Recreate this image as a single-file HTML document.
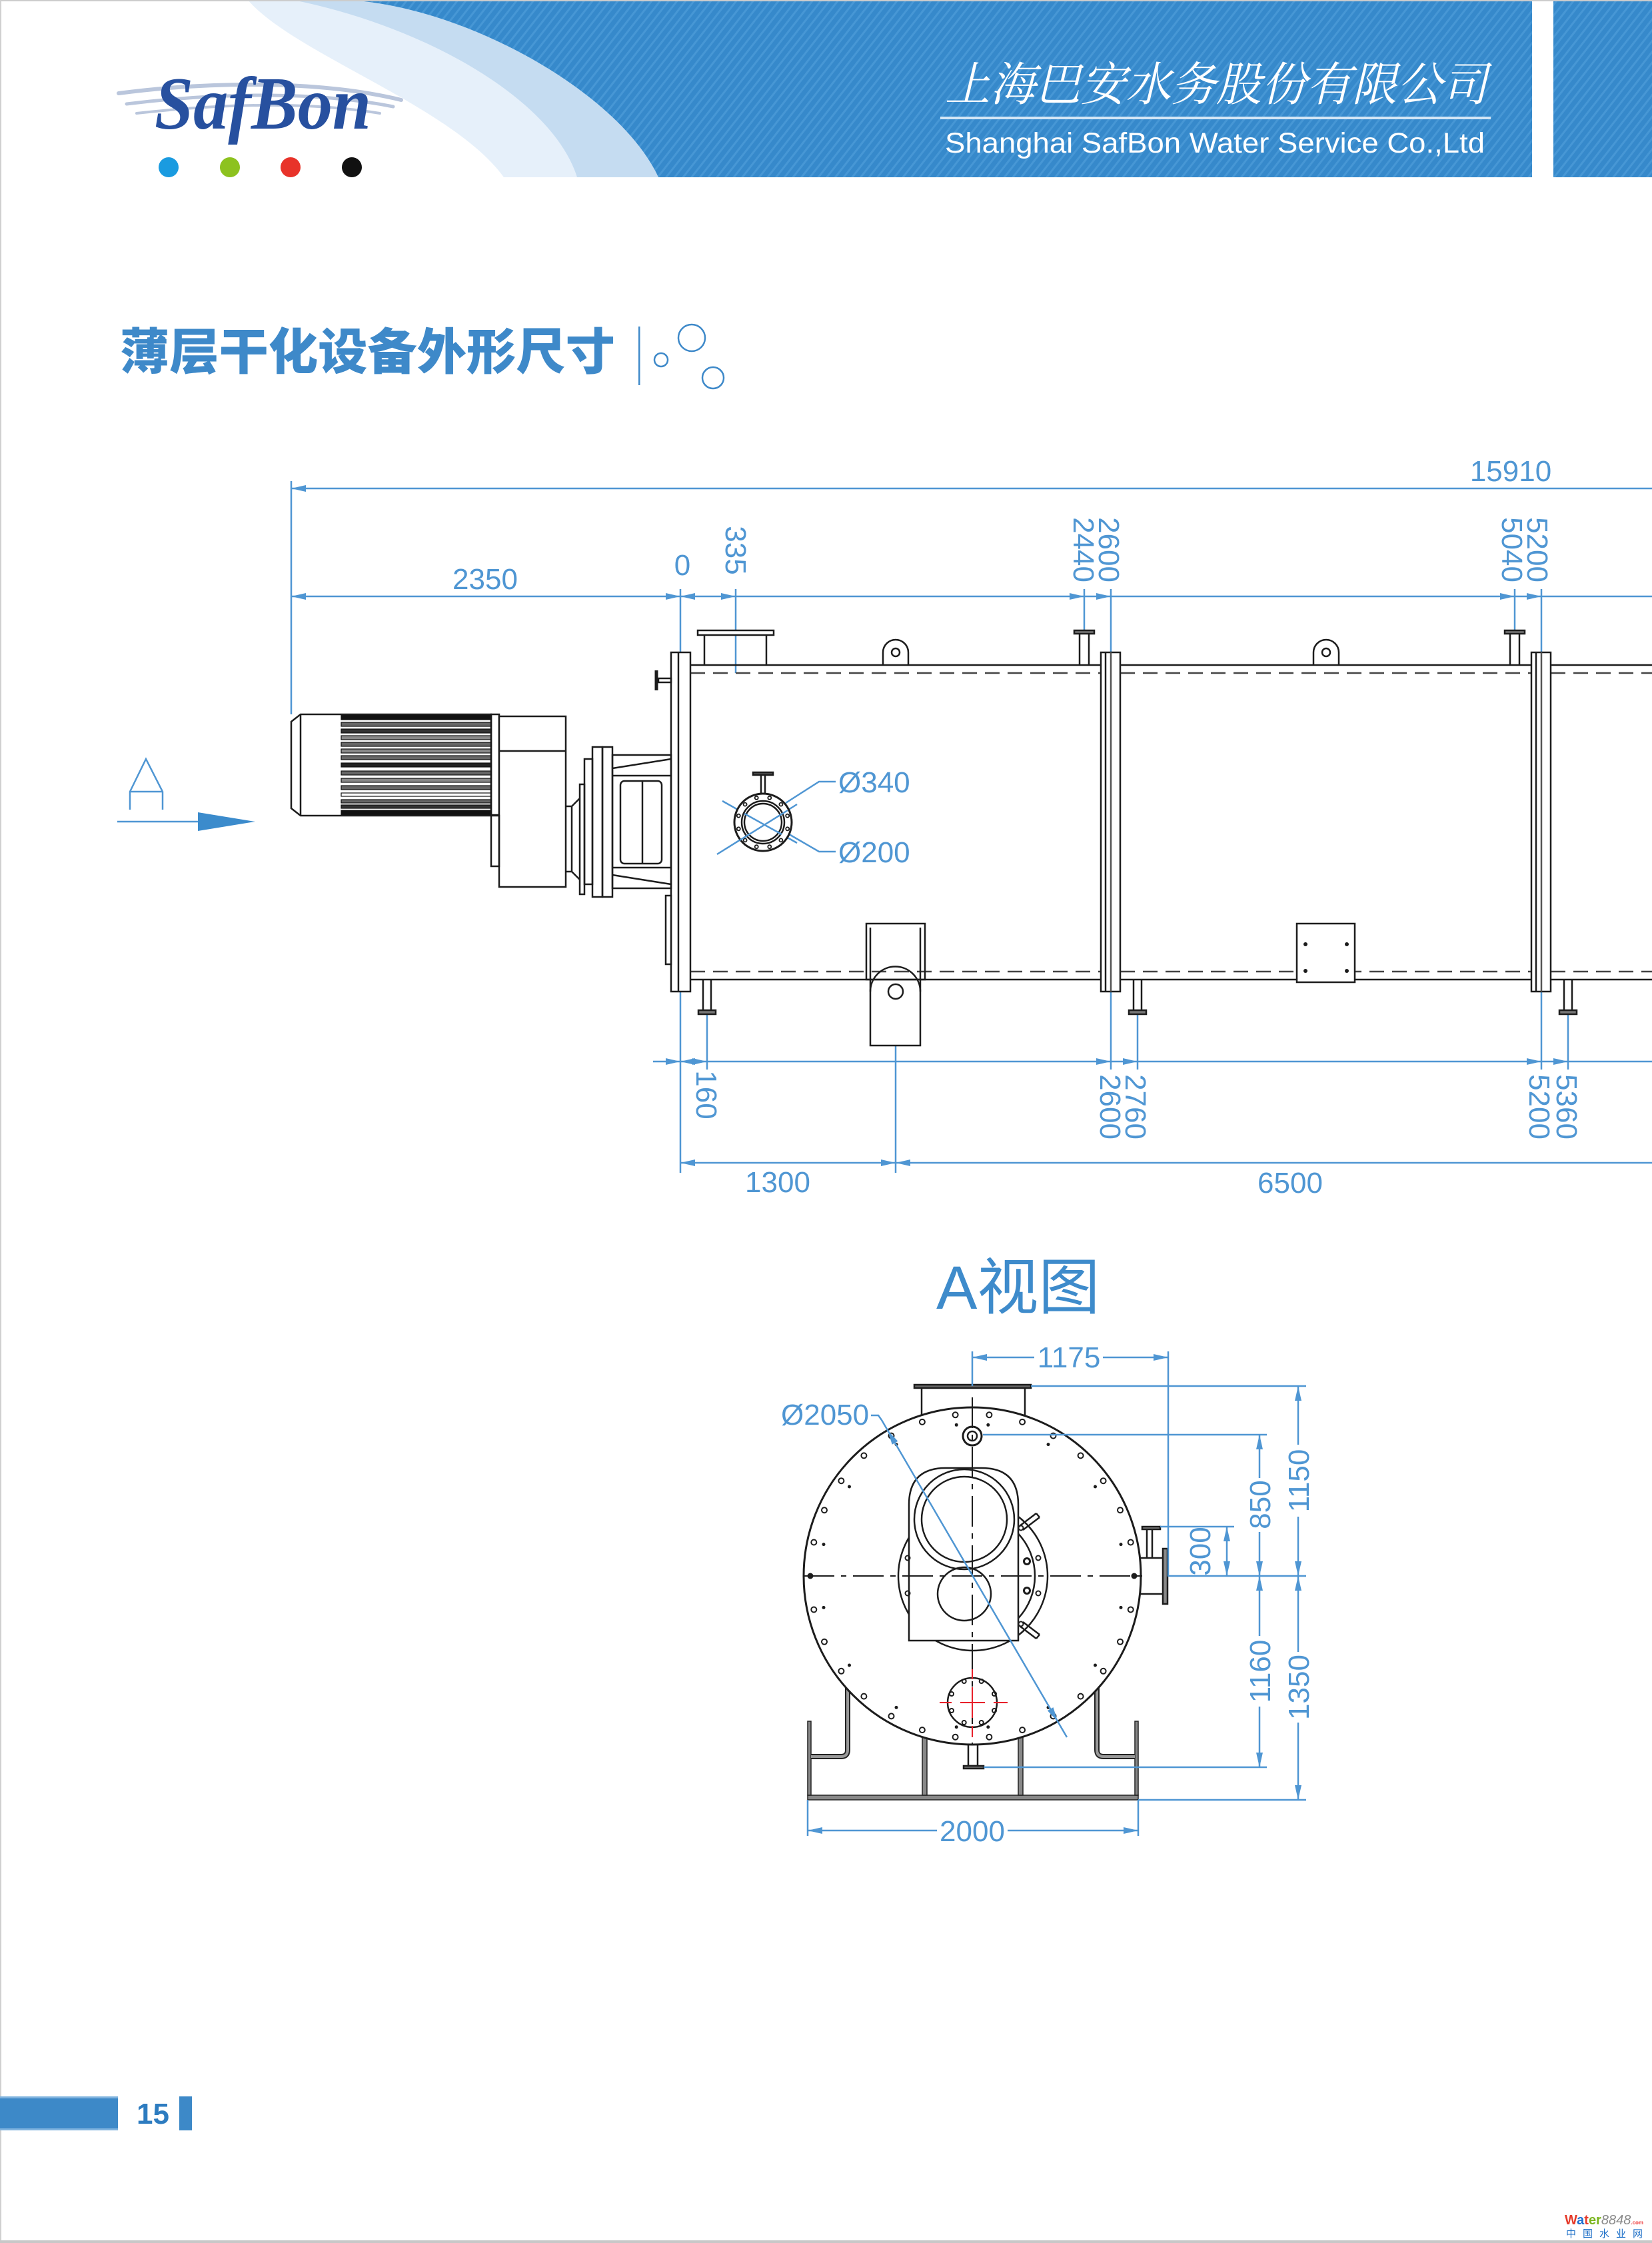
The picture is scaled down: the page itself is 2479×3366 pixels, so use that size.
<!DOCTYPE html>
<html><head><meta charset="utf-8"><style>
html,body{margin:0;padding:0;background:#fff}
svg{display:block}
</style></head><body>
<svg width="2479" height="3366" viewBox="0 0 2479 3366" xmlns="http://www.w3.org/2000/svg">
<defs>
<pattern id="st" width="10" height="10" patternUnits="userSpaceOnUse" patternTransform="rotate(38)">
<rect width="10" height="10" fill="#3689cb"/>
<rect width="3" height="10" fill="#4797d5"/>
</pattern>
</defs>
<rect width="2479" height="3366" fill="#fff"/>

<!-- HEADER -->
<path d="M372,0 C440,80 680,160 756,266 L988,266 C930,140 700,10 522,0 Z" fill="#e6f0fa"/>
<path d="M440,0 C640,40 830,150 866,266 L988,266 C930,140 700,10 522,0 Z" fill="#c5dcf1"/>
<path d="M522,0 C700,10 930,140 988,266 L2299,266 L2299,0 Z" fill="url(#st)"/>
<rect x="2331" y="0" width="148" height="266" fill="url(#st)"/>
<rect x="0" y="0" width="2479" height="2" fill="#cccccc"/>
<rect x="0" y="0" width="2" height="3366" fill="#d0d0d0"/>
<rect x="0" y="3362" width="2479" height="4" fill="#c8c8c8"/>

<!-- logo -->
<g fill="none" stroke="#bac6dc" stroke-linecap="round">
<path d="M178,140 C300,124 470,118 602,150" stroke-width="6"/>
<path d="M190,156 C320,140 470,136 590,160" stroke-width="5"/>
<path d="M205,170 C330,156 460,152 570,170" stroke-width="4"/>
</g>
<text x="232" y="193" font-family="Liberation Serif, serif" font-weight="bold" font-style="italic" font-size="112" fill="#27509f" textLength="325" lengthAdjust="spacingAndGlyphs">SafBon</text>
<circle cx="253" cy="251" r="15" fill="#1a9be0"/>
<circle cx="345" cy="251" r="15" fill="#8dc21f"/>
<circle cx="436" cy="251" r="15" fill="#e8332a"/>
<circle cx="528" cy="251" r="15" fill="#111"/>

<text x="1418" y="151" font-family="Noto Serif CJK SC, serif" font-style="italic" font-size="70" fill="#fff" textLength="814" lengthAdjust="spacingAndGlyphs">上海巴安水务股份有限公司</text>
<rect x="1411" y="175" width="826" height="4" fill="#d4e6f5"/>
<text x="1418" y="229" font-family="Liberation Sans, Arial, sans-serif" font-size="43" fill="#fff" textLength="810" lengthAdjust="spacingAndGlyphs">Shanghai SafBon Water Service Co.,Ltd</text>

<!-- TITLE -->
<text x="180" y="554" font-family="Noto Sans CJK SC, sans-serif" font-weight="900" font-size="74" fill="#3e89c9" textLength="743" lengthAdjust="spacingAndGlyphs">薄层干化设备外形尺寸</text>
<rect x="958" y="490" width="2.5" height="88" fill="#3e89c9"/>
<g fill="none" stroke="#3e89c9" stroke-width="2.5">
<circle cx="992" cy="540" r="10"/>
<circle cx="1038" cy="507" r="20"/>
<circle cx="1070" cy="567" r="16"/>
</g>

<!-- A arrow on left -->
<g stroke="#4f96d3" stroke-width="2.5" fill="none">
<path d="M195,1215 V1188 L219,1139 L244,1188 V1215 M195,1188 H244"/>
<line x1="176" y1="1233" x2="300" y2="1233"/>
</g>
<polygon points="383,1233 297,1219 297,1247" fill="#3b8bcc"/>

<!-- MAIN DRAWING: dimension lines (blue) -->
<g stroke="#4f96d3" stroke-width="2.5" fill="none">
<line x1="437" y1="733" x2="2479" y2="733"/>
<line x1="437" y1="722" x2="437" y2="1072"/>
<line x1="437" y1="895" x2="2479" y2="895"/>
<line x1="1021" y1="884" x2="1021" y2="1760"/>
<line x1="1104" y1="884" x2="1104" y2="1010"/>
<line x1="1627" y1="884" x2="1627" y2="946"/>
<line x1="1667" y1="884" x2="1667" y2="1605"/>
<line x1="2273" y1="884" x2="2273" y2="946"/>
<line x1="2313" y1="884" x2="2313" y2="1605"/>
<line x1="980" y1="1593" x2="2479" y2="1593"/>
<line x1="1061" y1="1522" x2="1061" y2="1605"/>
<line x1="1707" y1="1522" x2="1707" y2="1605"/>
<line x1="2353" y1="1522" x2="2353" y2="1605"/>
<line x1="1021" y1="1745" x2="2479" y2="1745"/>
<line x1="1344" y1="1569" x2="1344" y2="1760"/>
<!-- manhole dims -->
<line x1="1076" y1="1282" x2="1196" y2="1207"/>
<path d="M1179,1205 L1229,1173 H1254"/>
<line x1="1084" y1="1202" x2="1196" y2="1265"/>
<path d="M1179,1249 L1229,1278 H1254"/>
</g>
<g fill="#4f96d3">
<polygon points="437,733 459,728 459,738"/>
<polygon points="437,895 459,890 459,900"/>
<polygon points="1021,895 999,890 999,900"/>
<polygon points="1021,895 1043,890 1043,900"/>
<polygon points="1104,895 1082,890 1082,900"/>
<polygon points="1627,895 1605,890 1605,900"/>
<polygon points="1667,895 1645,890 1645,900"/>
<polygon points="2273,895 2251,890 2251,900"/>
<polygon points="2313,895 2291,890 2291,900"/>
<polygon points="1021,1593 999,1588 999,1598"/>
<polygon points="1021,1593 1043,1588 1043,1598"/>
<polygon points="1061,1593 1039,1588 1039,1598"/>
<polygon points="1667,1593 1645,1588 1645,1598"/>
<polygon points="1707,1593 1685,1588 1685,1598"/>
<polygon points="2313,1593 2291,1588 2291,1598"/>
<polygon points="2353,1593 2331,1588 2331,1598"/>
<polygon points="1021,1745 1043,1740 1043,1750"/>
<polygon points="1344,1745 1322,1740 1322,1750"/>
<polygon points="1344,1745 1366,1740 1366,1750"/>
</g>
<g font-family="Liberation Sans, Arial, sans-serif" font-size="44" fill="#4f96d3" text-anchor="middle">
<text x="2267" y="722">15910</text>
<text x="728" y="884">2350</text>
<text x="1024" y="863">0</text>
<text transform="translate(1105,826) rotate(90)" x="0" y="16">335</text>
<text transform="translate(1627,825) rotate(90)" x="0" y="16">2440</text>
<text transform="translate(1665,825) rotate(90)" x="0" y="16">2600</text>
<text transform="translate(2270,825) rotate(90)" x="0" y="16">5040</text>
<text transform="translate(2308,825) rotate(90)" x="0" y="16">5200</text>
<text transform="translate(1061,1643) rotate(90)" x="0" y="16">160</text>
<text transform="translate(1667,1661) rotate(90)" x="0" y="16">2600</text>
<text transform="translate(1705,1661) rotate(90)" x="0" y="16">2760</text>
<text transform="translate(2311,1661) rotate(90)" x="0" y="16">5200</text>
<text transform="translate(2352,1661) rotate(90)" x="0" y="16">5360</text>
<text x="1167" y="1789">1300</text>
<text x="1936" y="1790">6500</text>
<text x="1258" y="1189" text-anchor="start">Ø340</text>
<text x="1258" y="1294" text-anchor="start">Ø200</text>
</g>

<!-- MAIN DRAWING: machine (black) -->
<g stroke="#1c1c1c" stroke-width="2.5" fill="none">
<!-- shell lines -->
<path d="M1036,998 H1652 M1681,998 H2298 M2327,998 H2479 M1036,1470 H1652 M1681,1470 H2298 M2327,1470 H2479"/>
<path d="M1036,1010 H1652 M1681,1010 H2298 M2327,1010 H2479 M1036,1458 H1652 M1681,1458 H2298 M2327,1458 H2479" stroke="#444" stroke-dasharray="22 12"/>
<!-- flanges -->
<rect x="1007" y="979" width="29" height="509" fill="#fff"/>
<line x1="1018" y1="979" x2="1018" y2="1488"/>
<rect x="1652" y="979" width="29" height="509" fill="#fff"/>
<line x1="1659" y1="979" x2="1659" y2="1488"/>
<line x1="1667" y1="979" x2="1667" y2="1488" stroke="#555"/>
<rect x="2298" y="979" width="29" height="509" fill="#fff"/>
<line x1="2305" y1="979" x2="2305" y2="1488"/>
<line x1="2313" y1="979" x2="2313" y2="1488" stroke="#555"/>
<!-- inlet nozzle -->
<rect x="1047" y="946" width="114" height="7" fill="#fff"/>
<path d="M1057,953 V998 M1150,953 V998"/>
<!-- lugs -->
<path d="M1325,998 V979 A19,19 0 0 1 1363,979 V998"/>
<circle cx="1344" cy="979" r="6"/>
<path d="M1971,998 V979 A19,19 0 0 1 2009,979 V998"/>
<circle cx="1990" cy="979" r="6"/>
<!-- small top nozzles -->
<path d="M1620,951 V998 M1634,951 V998"/>
<rect x="1612" y="946" width="30" height="5" fill="#777"/>
<path d="M2266,951 V998 M2280,951 V998"/>
<rect x="2258" y="946" width="30" height="5" fill="#777"/>
<!-- legs -->
<path d="M1055,1470 V1516 M1067,1470 V1516"/>
<rect x="1048" y="1516" width="26" height="6" fill="#777"/>
<path d="M1701,1470 V1516 M1713,1470 V1516"/>
<rect x="1694" y="1516" width="26" height="6" fill="#777"/>
<path d="M2347,1470 V1516 M2359,1470 V1516"/>
<rect x="2340" y="1516" width="26" height="6" fill="#777"/>
<!-- left small nozzle -->
<line x1="985" y1="1006" x2="985" y2="1036" stroke-width="5"/>
<rect x="988" y="1018" width="19" height="6"/>
<rect x="999" y="1344" width="8" height="103" fill="#fff"/>
<!-- bracket 1 -->
<rect x="1300" y="1386" width="88" height="84"/>
<path d="M1306,1392 V1569 H1381 V1392"/>
<path d="M1306,1488 A37.5,37.5 0 0 1 1381,1488"/>
<circle cx="1344" cy="1488" r="11"/>
<!-- bracket 2 -->
<rect x="1946" y="1386" width="87" height="88" fill="#fff"/>
<g fill="#1c1c1c" stroke="none">
<circle cx="1959" cy="1417" r="3"/><circle cx="2021" cy="1417" r="3"/>
<circle cx="1959" cy="1457" r="3"/><circle cx="2021" cy="1457" r="3"/>
</g>
<!-- manhole -->
<path d="M1142,1191 V1162 M1148,1191 V1162"/>
<rect x="1130" y="1159" width="30" height="4" fill="#555"/>
<circle cx="1145" cy="1234" r="43" fill="#fff" stroke-width="3"/>
<circle cx="1145" cy="1234" r="32"/>
<circle cx="1145" cy="1234" r="28"/>
<g stroke-width="1.8">
<circle cx="1181.7" cy="1243.8" r="2.5"/><circle cx="1171.9" cy="1260.9" r="2.5"/>
<circle cx="1154.8" cy="1270.7" r="2.5"/><circle cx="1135.2" cy="1270.7" r="2.5"/>
<circle cx="1118.1" cy="1260.9" r="2.5"/><circle cx="1108.3" cy="1243.8" r="2.5"/>
<circle cx="1108.3" cy="1224.2" r="2.5"/><circle cx="1118.1" cy="1207.1" r="2.5"/>
<circle cx="1135.2" cy="1197.3" r="2.5"/><circle cx="1154.8" cy="1197.3" r="2.5"/>
<circle cx="1171.9" cy="1207.1" r="2.5"/><circle cx="1181.7" cy="1224.2" r="2.5"/>
</g>
</g>
<!-- manhole dims over -->
<g stroke="#4f96d3" stroke-width="2.5">
<line x1="1110" y1="1261" x2="1182" y2="1216"/>
<line x1="1117" y1="1221" x2="1173" y2="1252"/>
</g>

<!-- motor + gearbox -->
<g stroke="#1c1c1c" stroke-width="2.5" fill="none">
<g fill="#666" stroke="#111" stroke-width="1.2">
<rect x="512" y="1073" width="225" height="7" fill="#111"/>
<rect x="512" y="1084" width="225" height="6"/>
<rect x="512" y="1094" width="225" height="6" fill="#333"/>
<rect x="512" y="1104" width="225" height="6" fill="#888"/>
<rect x="512" y="1114" width="225" height="6"/>
<rect x="512" y="1124" width="225" height="6" fill="#888"/>
<rect x="512" y="1134" width="225" height="6"/>
<rect x="512" y="1145" width="225" height="6" fill="#222"/>
<rect x="512" y="1157" width="225" height="6"/>
<rect x="512" y="1168" width="225" height="6" fill="#888"/>
<rect x="512" y="1179" width="225" height="6"/>
<rect x="512" y="1190" width="225" height="5" fill="#fff"/>
<rect x="512" y="1200" width="225" height="5"/>
<rect x="512" y="1208" width="225" height="5" fill="#333"/>
<rect x="512" y="1216" width="225" height="8" fill="#111"/>
</g>
<path d="M451,1072 H737 V1224 H451 L437,1213 V1083 Z"/>
<line x1="451" y1="1072" x2="451" y2="1224"/>
<rect x="737" y="1072" width="12" height="151"/>
<rect x="749" y="1075" width="100" height="256" fill="#fff"/>
<line x1="749" y1="1127" x2="849" y2="1127"/>
<rect x="737" y="1224" width="12" height="76"/>
<path d="M849,1210 H858 L870,1198 M849,1308 H858 L870,1320 M858,1210 V1308"/>
<rect x="870" y="1177" width="7" height="165"/>
<rect x="877" y="1139" width="12" height="188"/>
<rect x="889" y="1121" width="15" height="225"/>
<rect x="904" y="1121" width="15" height="225"/>
<rect x="919" y="1133" width="88" height="200"/>
<path d="M919,1153 L1007,1139 M919,1313 L1007,1327 M919,1164 H1007 M919,1302 H1007"/>
<rect x="931" y="1172" width="62" height="124" rx="6"/>
<line x1="964" y1="1172" x2="964" y2="1296"/>
</g>

<!-- A VIEW -->
<text x="1405" y="1964" font-size="92" fill="#3e8bcb"><tspan font-family="Liberation Sans, Arial, sans-serif">A</tspan><tspan font-family="Noto Sans CJK SC, sans-serif">视图</tspan></text>

<!-- legs & frame -->
<g stroke="#222" fill="#888" stroke-width="1.5">
<rect x="1212" y="2694" width="496" height="7"/>
<rect x="1212" y="2583" width="5" height="111"/>
<rect x="1703" y="2583" width="5" height="111"/>
<rect x="1384" y="2600" width="7" height="94"/>
<rect x="1528" y="2600" width="7" height="94"/>
</g>
<g fill="none" stroke-linecap="butt">
<path d="M1272,2530 V2626 Q1272,2636 1262,2636 H1217" stroke="#222" stroke-width="8"/>
<path d="M1272,2530 V2626 Q1272,2636 1262,2636 H1217" stroke="#999" stroke-width="4"/>
<path d="M1646,2530 V2626 Q1646,2636 1656,2636 H1703" stroke="#222" stroke-width="8"/>
<path d="M1646,2530 V2626 Q1646,2636 1656,2636 H1703" stroke="#999" stroke-width="4"/>
</g>
<g stroke="#1c1c1c" stroke-width="2.5" fill="none">
<rect x="1453" y="2610" width="14" height="40" fill="#fff"/>
<rect x="1446" y="2650" width="30" height="4" fill="#777"/>
<!-- top nozzle -->
<path d="M1383,2083 V2130 M1538,2083 V2130"/>
<rect x="1372" y="2078" width="175" height="5" fill="#666"/>
<!-- right nozzle -->
<path d="M1700,2338 H1745 M1700,2392 H1745 M1721,2295 V2338 M1729,2295 V2338"/>
<rect x="1745" y="2324" width="7" height="83" fill="#888"/>
<rect x="1714" y="2291" width="27" height="4" fill="#888"/>
<!-- main circle -->
<circle cx="1459" cy="2365" r="253" fill="#fff" stroke-width="3"/>
</g>
<!-- bolt holes -->
<g fill="#fff" stroke="#1c1c1c" stroke-width="2">
<circle cx="1484.4" cy="2123.3" r="4"/><circle cx="1534.1" cy="2133.9" r="4"/><circle cx="1580.5" cy="2154.6" r="4"/>
<circle cx="1621.6" cy="2184.4" r="4"/><circle cx="1655.6" cy="2222.2" r="4"/><circle cx="1681" cy="2266.2" r="4"/>
<circle cx="1696.7" cy="2314.5" r="4"/><circle cx="1696.7" cy="2415.5" r="4"/>
<circle cx="1681" cy="2463.8" r="4"/><circle cx="1655.6" cy="2507.8" r="4"/><circle cx="1621.6" cy="2545.6" r="4"/>
<circle cx="1580.5" cy="2575.4" r="4"/><circle cx="1534.1" cy="2596.1" r="4"/><circle cx="1484.4" cy="2606.7" r="4"/>
<circle cx="1433.6" cy="2606.7" r="4"/><circle cx="1383.9" cy="2596.1" r="4"/><circle cx="1337.5" cy="2575.4" r="4"/>
<circle cx="1296.4" cy="2545.6" r="4"/><circle cx="1262.4" cy="2507.8" r="4"/><circle cx="1237" cy="2463.8" r="4"/>
<circle cx="1221.3" cy="2415.5" r="4"/><circle cx="1221.3" cy="2314.5" r="4"/>
<circle cx="1237" cy="2266.2" r="4"/><circle cx="1262.4" cy="2222.2" r="4"/><circle cx="1296.4" cy="2184.4" r="4"/>
<circle cx="1337.5" cy="2154.6" r="4"/><circle cx="1383.9" cy="2133.9" r="4"/><circle cx="1433.6" cy="2123.3" r="4"/>
</g>
<g fill="#1c1c1c">
<circle cx="1702" cy="2365" r="4.5"/><circle cx="1216" cy="2365" r="4.5"/>
<circle cx="1482.8" cy="2138.3" r="2.5"/><circle cx="1573" cy="2167.6" r="2.5"/><circle cx="1643.5" cy="2231" r="2.5"/><circle cx="1682" cy="2317.6" r="2.5"/>
<circle cx="1682" cy="2412.4" r="2.5"/><circle cx="1643.5" cy="2499" r="2.5"/><circle cx="1573" cy="2562.4" r="2.5"/><circle cx="1482.8" cy="2591.7" r="2.5"/>
<circle cx="1435.2" cy="2591.7" r="2.5"/><circle cx="1345" cy="2562.4" r="2.5"/><circle cx="1274.5" cy="2499" r="2.5"/><circle cx="1236" cy="2412.4" r="2.5"/>
<circle cx="1236" cy="2317.6" r="2.5"/><circle cx="1274.5" cy="2231" r="2.5"/><circle cx="1345" cy="2167.6" r="2.5"/><circle cx="1435.2" cy="2138.3" r="2.5"/>
</g>
<!-- interior -->
<g stroke="#1c1c1c" stroke-width="2.5" fill="none">
<circle cx="1460" cy="2365" r="112"/>
<circle cx="1460" cy="2365" r="93"/>
<path d="M1530,2290 L1555,2271 M1535,2296 L1560,2277 M1555,2271 L1560,2277"/>
<path d="M1530,2440 L1555,2459 M1535,2434 L1560,2453 M1555,2459 L1560,2453"/>
<path d="M1364,2462 V2258 Q1364,2203 1419,2203 H1473 Q1528,2203 1528,2258 V2462 Z" fill="#fff"/>
<circle cx="1447" cy="2280" r="75"/>
<circle cx="1447" cy="2280" r="64"/>
<circle cx="1447" cy="2392" r="40"/>
<g stroke-width="2">
<circle cx="1532" cy="2293" r="3.5"/><circle cx="1558" cy="2338" r="3.5"/>
<circle cx="1558" cy="2391" r="3.5"/><circle cx="1532" cy="2437" r="3.5"/>
<circle cx="1541" cy="2343" r="4.5" stroke-width="3"/><circle cx="1541" cy="2387" r="4.5" stroke-width="3"/>
<circle cx="1362" cy="2338" r="3.5"/><circle cx="1362" cy="2391" r="3.5"/>
</g>
<!-- top small flange -->
<circle cx="1459" cy="2155" r="14" stroke-width="3"/>
<circle cx="1459" cy="2155" r="7"/>
<!-- bottom flange -->
<circle cx="1459" cy="2555" r="37"/>
<g stroke-width="2">
<circle cx="1446.7" cy="2523" r="3"/><circle cx="1472.7" cy="2523" r="3"/>
<circle cx="1428" cy="2542" r="3"/><circle cx="1492" cy="2542" r="3"/>
<circle cx="1428" cy="2567" r="3"/><circle cx="1492" cy="2567" r="3"/>
<circle cx="1446.7" cy="2585" r="3"/><circle cx="1472.7" cy="2585" r="3"/>
</g>
<!-- centre lines -->
<line x1="1459" y1="2097" x2="1459" y2="2619" stroke-width="2" stroke-dasharray="46 10 8 10"/>
<line x1="1206" y1="2365" x2="1714" y2="2365" stroke-width="2" stroke-dasharray="46 10 8 10"/>
</g>
<g stroke="#e8202a" stroke-width="2">
<path d="M1410,2555 H1428 M1441,2555 H1478 M1491,2555 H1512"/>
<path d="M1459,2505 V2520 M1459,2532 V2578 M1459,2590 V2607"/>
</g>

<!-- A view dims -->
<g stroke="#4f96d3" stroke-width="2.5" fill="none">
<path d="M1459,2037 H1552 M1655,2037 H1753"/>
<path d="M1459,2028 V2080 M1753,2028 V2365"/>
<path d="M1547,2080 H1960 M1475,2153 H1901 M1741,2291 H1852 M1752,2365 H1960 M1476,2652 H1901 M1708,2701 H1960"/>
<path d="M1890,2153 V2218 M1890,2299 V2365 M1890,2365 V2455 M1890,2561 V2652"/>
<path d="M1948,2080 V2168 M1948,2276 V2365 M1948,2365 V2479 M1948,2585 V2701"/>
<path d="M1841,2291 V2365"/>
<path d="M1212,2701 V2755 M1708,2701 V2755 M1212,2747 H1406 M1512,2747 H1708"/>
<path d="M1307,2124 H1318 L1323,2131 L1601,2607"/>
</g>
<g fill="#4f96d3">
<polygon points="1459,2037 1481,2032 1481,2042"/>
<polygon points="1753,2037 1731,2032 1731,2042"/>
<polygon points="1890,2153 1885,2175 1895,2175"/>
<polygon points="1890,2365 1885,2343 1895,2343"/>
<polygon points="1890,2365 1885,2387 1895,2387"/>
<polygon points="1890,2652 1885,2630 1895,2630"/>
<polygon points="1948,2080 1943,2102 1953,2102"/>
<polygon points="1948,2365 1943,2343 1953,2343"/>
<polygon points="1948,2365 1943,2387 1953,2387"/>
<polygon points="1948,2701 1943,2679 1953,2679"/>
<polygon points="1841,2291 1836,2313 1846,2313"/>
<polygon points="1841,2365 1836,2343 1846,2343"/>
<polygon points="1212,2747 1234,2742 1234,2752"/>
<polygon points="1708,2747 1686,2742 1686,2752"/>
<polygon points="1331.9,2146.2 1347.3,2162.7 1338.7,2167.7"/>
<polygon points="1587.3,2583.6 1580.5,2562.1 1571.9,2567.1"/>
</g>
<g font-family="Liberation Sans, Arial, sans-serif" font-size="44" fill="#4f96d3" text-anchor="middle">
<text x="1604" y="2052">1175</text>
<text x="1459" y="2763">2000</text>
<text x="1172" y="2138" text-anchor="start">Ø2050</text>
<text transform="translate(1800,2328) rotate(-90)" x="0" y="16">300</text>
<text transform="translate(1890,2258) rotate(-90)" x="0" y="16">850</text>
<text transform="translate(1948,2222) rotate(-90)" x="0" y="16">1150</text>
<text transform="translate(1890,2508) rotate(-90)" x="0" y="16">1160</text>
<text transform="translate(1948,2532) rotate(-90)" x="0" y="16">1350</text>
</g>

<!-- FOOTER -->
<rect x="0" y="3146" width="177" height="51" fill="#3d89c8"/>
<rect x="0" y="3146" width="177" height="3" fill="#7fb3de"/>
<rect x="0" y="3194" width="177" height="3" fill="#7fb3de"/>
<text x="205" y="3187" font-family="Liberation Sans, Arial, sans-serif" font-weight="bold" font-size="44" fill="#2d7cc0">15</text>
<rect x="269" y="3146" width="19" height="51" fill="#3d89c8"/>

<text x="2348" y="3338" font-family="Liberation Sans, Arial, sans-serif" font-size="20" font-weight="bold"><tspan fill="#e53a2a">W</tspan><tspan fill="#1b6fd1">a</tspan><tspan fill="#e53a2a">t</tspan><tspan fill="#7ab51d">er</tspan><tspan fill="#888" font-style="italic" font-weight="normal">8848</tspan><tspan font-size="8" fill="#e33">.com</tspan></text>
<text x="2350" y="3357" font-family="Noto Sans CJK SC, sans-serif" font-size="15" fill="#1d6fc7" letter-spacing="10">中国水业网</text>
</svg>
</body></html>
